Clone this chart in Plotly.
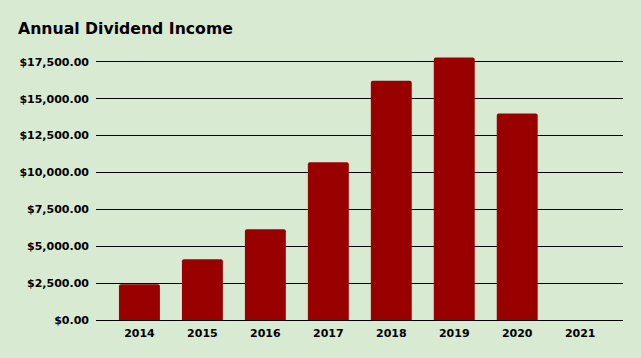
import plotly.graph_objects as go

years = ["2014", "2015", "2016", "2017", "2018", "2019", "2020", "2021"]
income = [2430, 4120, 6150, 10700, 16230, 17790, 14000, 0]
y_ticks = [0, 2500, 5000, 7500, 10000, 12500, 15000, 17500]
y_tick_labels = ["$0.00", "$2,500.00", "$5,000.00", "$7,500.00", "$10,000.00",
                 "$12,500.00", "$15,000.00", "$17,500.00"]

BG = "#d9ead3"
BAR = "#990000"

fig = go.Figure(go.Bar(x=years, y=income, marker=dict(color=BAR, line=dict(width=0))))

fig.update_layout(
    width=641, height=358,
    paper_bgcolor=BG, plot_bgcolor=BG,
    margin=dict(l=96, r=18, t=56, b=38),
    bargap=0.35,
    barcornerradius=2,
    showlegend=False,
    title=dict(text="<b>Annual Dividend Income</b>", x=18/641, xanchor="left",
               y=1-29/358, yanchor="middle",
               font=dict(family="DejaVu Sans", size=15.7, color="#000000")),
    font=dict(family="DejaVu Sans", size=11, color="#000000"),
)
fig.update_yaxes(range=[0, 17900], tickvals=y_ticks, ticktext=["<b>%s</b>" % t for t in y_tick_labels],
                 showgrid=True, gridcolor="#000000", gridwidth=1,
                 zeroline=True, zerolinecolor="#000000", zerolinewidth=1,
                 showline=False, ticks="", ticklabelstandoff=6, fixedrange=True)
fig.update_xaxes(range=[-0.69, 7.68], showgrid=False, showline=False, ticks="", ticklabelstandoff=5,
                 tickvals=years, ticktext=["<b>%s</b>" % y for y in years], fixedrange=True)

fig.write_html("out.html", config={"displayModeBar": False},
               post_script="document.body.style.margin='0';document.body.style.background='%s';" % BG)
